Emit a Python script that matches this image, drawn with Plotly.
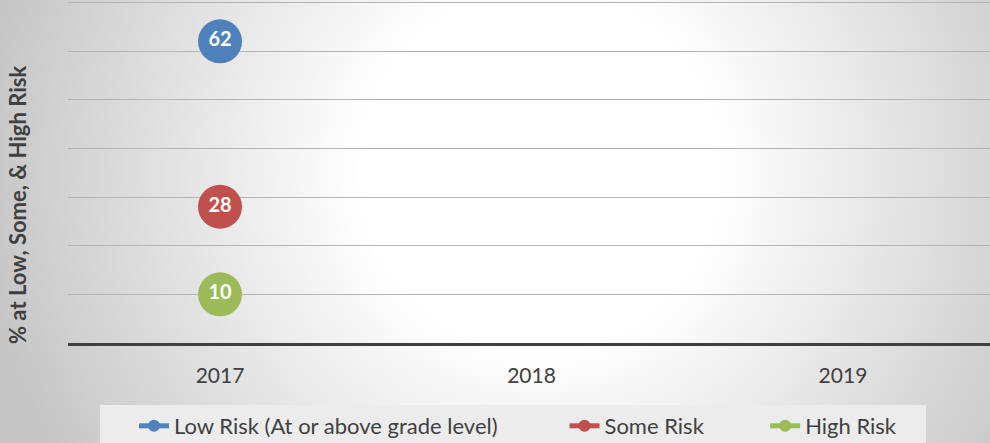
import base64
import plotly.graph_objects as go

years = ["2017", "2018", "2019"]
low_risk = [62, None, None]
some_risk = [28, None, None]
high_risk = [10, None, None]

series_names = ["Low Risk (At or above grade level)", "Some Risk", "High Risk"]
series_values = [low_risk, some_risk, high_risk]
series_colors = ["#4f81bd", "#c0504d", "#9bbb59"]
pads = [11, 10, 0]
y_max = 70

W, H = 990, 443
ML, MR, MT, MB = 68, 0, 0, 100
PW, PH = W - ML - MR, H - MT - MB

svg = f'''<svg xmlns="http://www.w3.org/2000/svg" width="{W}" height="{H}" viewBox="0 0 {W} {H}">
<defs><radialGradient id="g" gradientUnits="userSpaceOnUse" cx="540" cy="170" r="560">
<stop offset="0" stop-color="#ffffff"/><stop offset="0.32" stop-color="#ffffff"/>
<stop offset="1" stop-color="#c6c6c6"/></radialGradient></defs>
<rect x="0" y="0" width="{W}" height="{H}" fill="url(#g)"/></svg>'''
src = "data:image/svg+xml;base64," + base64.b64encode(svg.encode()).decode()

fig = go.Figure()
for name, vals, col, pad in zip(series_names, series_values, series_colors, pads):
    fig.add_trace(go.Scatter(
        x=years, y=vals, name=name + "\u00a0" * pad,
        mode="lines+markers+text",
        line=dict(color=col, width=5),
        marker=dict(color=col, size=44),
        text=[str(v) if v is not None else "" for v in vals],
        textposition="middle center",
        textfont=dict(color="white", size=20, family="Lato", weight="bold"),
        cliponaxis=False,
    ))

def px_x(p):
    return (p - ML) / PW

def px_y(p):
    return (H - MB - p) / PH

fig.update_layout(
    width=W, height=H,
    margin=dict(l=ML, r=MR, t=MT, b=MB, autoexpand=False),
    paper_bgcolor="#d0d0d0",
    plot_bgcolor="rgba(0,0,0,0)",
    font=dict(family="Lato", color="#404040"),
    showlegend=True,
    legend=dict(
        orientation="h", x=px_x(134), y=px_y(405),
        xanchor="left", yanchor="top", yref="paper",
        bgcolor="rgba(0,0,0,0)", font=dict(size=22, color="#404040", family="Lato"),
        itemsizing="constant", tracegroupgap=0,
    ),
    shapes=[
        dict(type="rect", xref="paper", yref="paper",
             x0=px_x(100), x1=px_x(926), y0=px_y(446), y1=px_y(405),
             fillcolor="#ececec", line=dict(width=0), layer="below"),
        dict(type="line", xref="paper", yref="y", x0=0, x1=1, y0=y_max, y1=y_max,
             line=dict(color="#b4b4b4", width=1), layer="below"),
    ],
    images=[dict(source=src, xref="paper", yref="paper",
                 x=-ML / PW, y=(H - MB) / PH, sizex=W / PW, sizey=H / PH,
                 xanchor="left", yanchor="top", sizing="stretch", layer="below")],
    annotations=[dict(text="<b>% at Low, Some, & High Risk</b>", textangle=-90,
                      xref="paper", yref="paper", x=px_x(17), y=px_y(205),
                      xanchor="center", yanchor="middle",
                      showarrow=False, font=dict(size=22, color="#404040", family="Lato"))],
)
fig.update_xaxes(
    type="category", range=[-0.488, 2.472],
    showgrid=False, showline=True, linecolor="#404040", linewidth=3,
    ticks="", tickfont=dict(size=21, color="#404040", family="Lato"),
    ticklabelstandoff=12, zeroline=False,
)
fig.update_yaxes(
    range=[0, 70.5], tickvals=[10, 20, 30, 40, 50, 60, 70], showgrid=True,
    gridcolor="#b4b4b4", gridwidth=1,
    showticklabels=False, zeroline=False, showline=False, ticks="",
)
fig.write_html("out.html")
